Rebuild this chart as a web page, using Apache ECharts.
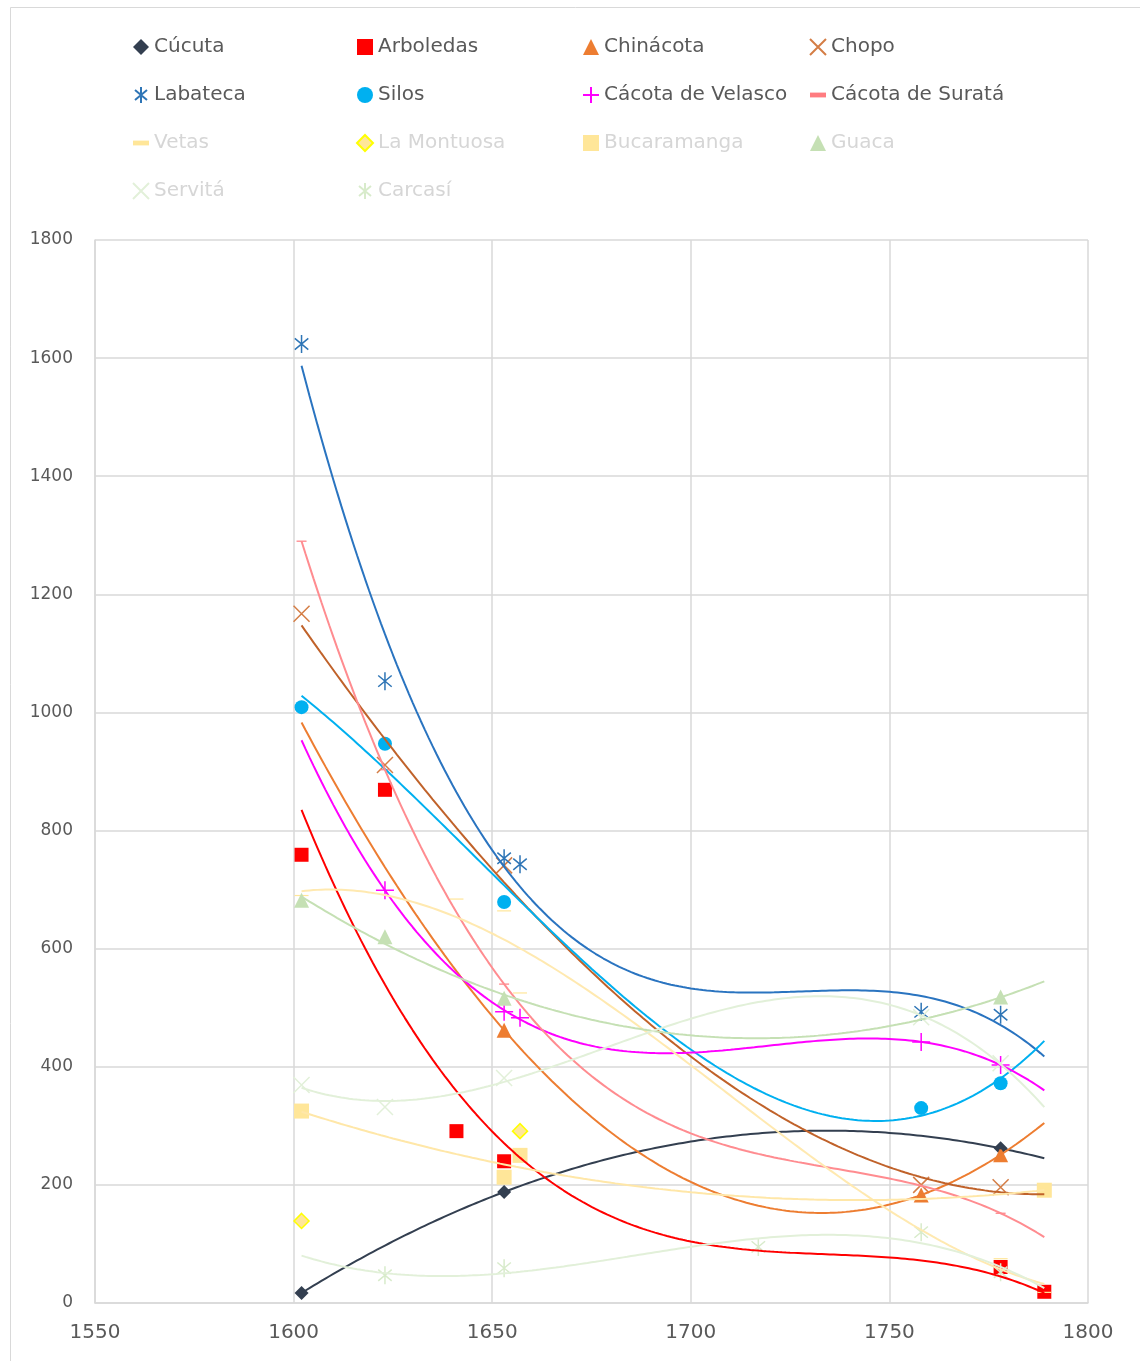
<!DOCTYPE html>
<html>
<head>
<meta charset="utf-8">
<script src="https://cdn.jsdelivr.net/npm/echarts@6/dist/echarts.min.js"></script>
<style>
  html, body { margin: 0; padding: 0; background: #ffffff; }
  #chart { width: 1140px; height: 1361px; }
</style>
</head>
<body>
<div id="chart"></div>
<script>
// Population counts per town and census year: [year, value]
const cucuta       = [[1602, 17], [1653, 188], [1778, 262]];
const arboledas    = [[1602, 759], [1623, 869], [1641, 291], [1653, 240], [1778, 61], [1789, 19]];
const chinacota    = [[1653, 462], [1758, 183], [1778, 251]];
const chopo        = [[1602, 1167], [1623, 911], [1653, 741], [1758, 200], [1778, 196]];
const labateca     = [[1602, 1624], [1623, 1053], [1653, 753], [1657, 743], [1758, 493], [1778, 488]];
const silos        = [[1602, 1009], [1623, 947], [1653, 679], [1758, 330], [1778, 372]];
const cacotaVel    = [[1623, 699], [1653, 493], [1657, 483], [1758, 442], [1778, 403]];
const cacotaSur    = [[1602, 1290], [1623, 903], [1653, 540], [1778, 152]];
const vetas        = [[1602, 690], [1641, 684], [1653, 664], [1657, 525], [1778, 75], [1789, 18]];
const laMontuosa   = [[1602, 139], [1657, 291]];
const bucaramanga  = [[1602, 325], [1653, 213], [1657, 250], [1789, 191]];
const guaca        = [[1602, 682], [1623, 620], [1653, 516], [1778, 518]];
const servita      = [[1602, 369], [1623, 332], [1653, 381], [1758, 484], [1778, 406]];
const carcasi      = [[1623, 47], [1653, 59], [1717, 95], [1758, 120], [1778, 52]];

// Arboledas trend: values taken along its published cubic curve
const arboledasCurve = [[1602, 835], [1672, 174], [1752, 76], [1789, 17]];

// Axis ticks
const xTicks = [1550, 1600, 1650, 1700, 1750, 1800];
const yTicks = [0, 200, 400, 600, 800, 1000, 1200, 1400, 1600, 1800];

// Span covered by the polynomial trend lines
const trendFrom = 1602;
const trendTo = 1789;

const SYM_X = 'path://M1,1L15,15M15,1L1,15';
const SYM_STAR = 'path://M2,3L14,13M14,3L2,13M8,0L8,16';
const SYM_PLUS = 'path://M8,0L8,16M0,8L16,8';
const SYM_DASH = 'path://M0,0L10,0L10,3L0,3Z';

// name, data, marker, marker size, fill, stroke, trend colour, trend order (0 = none), trend source
const towns = [
  ['Cúcuta', cucuta, 'diamond', 14, '#333F50', null, '#333F50', 3, null],
  ['Arboledas', arboledas, 'rect', 14, '#FF0000', null, '#FF0000', 3, arboledasCurve],
  ['Chinácota', chinacota, 'triangle', 15, '#ED7D31', null, '#ED7D31', 3, null],
  ['Chopo', chopo, SYM_X, 16, 'rgba(0,0,0,0)', '#D47D45', '#C0622A', 3, null],
  ['Labateca', labateca, SYM_STAR, 18, 'rgba(0,0,0,0)', '#2E75B6', '#2A74C0', 3, null],
  ['Silos', silos, 'circle', 14, '#00B0F0', null, '#00B0F0', 3, null],
  ['Cácota de Velasco', cacotaVel, SYM_PLUS, 18, 'rgba(0,0,0,0)', '#FF00FF', '#FF00FF', 3, null],
  ['Cácota de Suratá', cacotaSur, SYM_DASH, [10, 4], '#FF7C80', null, '#FF8C90', 3, null],
  ['Vetas', vetas, SYM_DASH, [14, 4], '#FFE699', null, '#FFE9B0', 3, null],
  ['La Montuosa', laMontuosa, 'diamond', 15, '#FFE699', '#FFFF00', null, 0, null],
  ['Bucaramanga', bucaramanga, 'rect', 15, '#FFE699', null, '#FFE7A8', 2, null],
  ['Guaca', guaca, 'triangle', 15, '#C5E0B4', null, '#C5E0B4', 2, null],
  ['Servitá', servita, SYM_X, 16, 'rgba(0,0,0,0)', '#E2F0D9', '#E2F0D9', 3, null],
  ['Carcasí', carcasi, SYM_STAR, 18, 'rgba(0,0,0,0)', '#D8EBCB', '#E2F0D9', 3, null]
];

// Least-squares polynomial fit; returns coefficients in u = (x - 1700) / 100
function polyFit(pts, order) {
  const k = Math.min(order, pts.length - 1) + 1;
  const A = [], b = [];
  for (let i = 0; i < k; i++) { A.push(new Array(k).fill(0)); b.push(0); }
  pts.forEach(([x, y]) => {
    const u = (x - 1700) / 100;
    for (let i = 0; i < k; i++) {
      b[i] += y * Math.pow(u, i);
      for (let j = 0; j < k; j++) A[i][j] += Math.pow(u, i + j);
    }
  });
  for (let c = 0; c < k; c++) {
    let p = c;
    for (let r = c + 1; r < k; r++) if (Math.abs(A[r][c]) > Math.abs(A[p][c])) p = r;
    [A[c], A[p]] = [A[p], A[c]]; [b[c], b[p]] = [b[p], b[c]];
    for (let r = 0; r < k; r++) {
      if (r === c) continue;
      const f = A[r][c] / A[c][c];
      for (let j = c; j < k; j++) A[r][j] -= f * A[c][j];
      b[r] -= f * b[c];
    }
  }
  return b.map((v, i) => v / A[i][i]);
}

function trendLine(pts, order) {
  const coef = polyFit(pts, order);
  const out = [];
  for (let x = trendFrom; x <= trendTo; x += 1) {
    const u = (x - 1700) / 100;
    let y = 0;
    coef.forEach((c, i) => { y += c * Math.pow(u, i); });
    out.push([x, y]);
  }
  return out;
}

const scatterSeries = towns.map(([name, data, symbol, size, fill, stroke]) => ({
  name: name,
  type: 'scatter',
  data: data,
  symbol: symbol,
  symbolSize: size,
  symbolKeepAspect: true,
  z: 2,
  itemStyle: stroke
    ? { color: fill, borderColor: stroke, borderWidth: 1.5, opacity: 1 }
    : { color: fill, opacity: 1 },
  emphasis: { disabled: true }
}));

const trendSeries = towns.filter(t => t[7] > 0).map(([name, data, , , , , lineColor, order, source]) => ({
  name: name + ' · tendencia',
  type: 'line',
  data: trendLine(source || data, order),
  showSymbol: false,
  symbol: 'none',
  smooth: false,
  z: 3,
  lineStyle: { color: lineColor, width: 2 },
  emphasis: { disabled: true }
}));

const darkText = '#595959';
const paleText = '#D6D6D6';
const paleNames = ['Vetas', 'La Montuosa', 'Bucaramanga', 'Guaca', 'Servitá', 'Carcasí'];
function legendItem(n) {
  return { name: n, textStyle: { color: paleNames.includes(n) ? paleText : darkText } };
}
function legendCol(left, names) {
  return {
    left: left, top: 32, orient: 'vertical',
    itemGap: 28, itemWidth: 16, itemHeight: 16,
    textStyle: { fontSize: 20, lineHeight: 20, fontFamily: 'DejaVu Sans', color: darkText },
    selectedMode: false,
    data: names.map(legendItem)
  };
}

const chart = echarts.init(document.getElementById('chart'), null, { renderer: 'canvas' });
chart.setOption({
  animation: false,
  backgroundColor: '#ffffff',
  graphic: [{
    type: 'rect', left: 8, top: 5, z: -10, silent: true,
    shape: { width: 1130, height: 1370 },
    style: { fill: 'none', stroke: '#D9D9D9', lineWidth: 1 }
  }],
  legend: [
    legendCol(127, ['Cúcuta', 'Labateca', 'Vetas', 'Servitá']),
    legendCol(351, ['Arboledas', 'Silos', 'La Montuosa', 'Carcasí']),
    legendCol(577, ['Chinácota', 'Cácota de Velasco', 'Bucaramanga']),
    legendCol(804, ['Chopo', 'Cácota de Suratá', 'Guaca'])
  ],
  grid: { left: 95, right: 52, top: 240, bottom: 58, containLabel: false },
  xAxis: {
    type: 'value', min: xTicks[0], max: xTicks[xTicks.length - 1], interval: 50,
    axisLine: { show: true, onZero: false, lineStyle: { color: '#D9D9D9', width: 1.5 } },
    axisTick: { show: false },
    splitLine: { show: true, lineStyle: { color: '#D9D9D9', width: 1.5 } },
    axisLabel: { color: darkText, fontSize: 20, fontFamily: 'DejaVu Sans', margin: 20,
      formatter: v => String(v) }
  },
  yAxis: {
    type: 'value', min: yTicks[0], max: yTicks[yTicks.length - 1], interval: 200,
    axisLine: { show: true, lineStyle: { color: '#D9D9D9', width: 1.5 } },
    axisTick: { show: false },
    splitLine: { show: true, lineStyle: { color: '#D9D9D9', width: 1.5 } },
    axisLabel: { color: darkText, fontSize: 17, fontFamily: 'DejaVu Sans', margin: 22,
      formatter: v => String(v) }
  },
  series: scatterSeries.concat(trendSeries)
});
</script>
</body>
</html>
